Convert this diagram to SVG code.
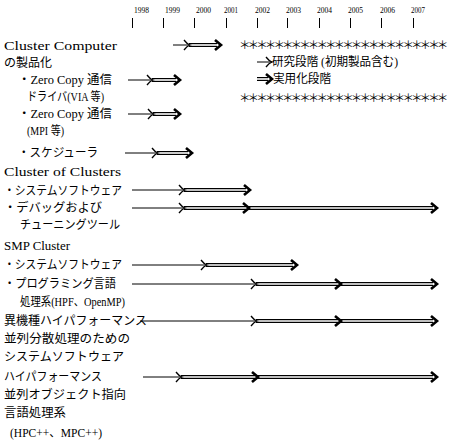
<svg xmlns="http://www.w3.org/2000/svg" xmlns:xlink="http://www.w3.org/1999/xlink" width="450" height="442" viewBox="0 0 450 442">
<style>
text{font-family:"Liberation Serif","Noto Sans CJK JP",serif;font-size:12px;fill:#000}
.yr{font-size:9px}
.st{font-family:"Noto Sans CJK JP",sans-serif;font-size:11.5px;letter-spacing:-2.9px}
.tk{stroke:#000;stroke-width:1}
.thin{stroke:#000;stroke-width:1}
.dbo{stroke:#000;stroke-width:4}
.dbi{stroke:#fff;stroke-width:1.6}
</style>
<defs>
<path id="open" d="M-6,-5 Q-3,-1 0,0 Q-3,1 -6,5" fill="none" stroke="#000" stroke-width="1.3"/>
<path id="bold" d="M-6,-5 L0,0 L-6,5" fill="none" stroke="#000" stroke-width="2.6"/>
</defs>
<rect width="450" height="442" fill="#fff"/>
<g id="timeline">
<text class="yr" x="134" y="13" textLength="15" lengthAdjust="spacingAndGlyphs">1998</text>
<text class="yr" x="165" y="13" textLength="15" lengthAdjust="spacingAndGlyphs">1999</text>
<text class="yr" x="196" y="13" textLength="15" lengthAdjust="spacingAndGlyphs">2000</text>
<text class="yr" x="224" y="13" textLength="14" lengthAdjust="spacingAndGlyphs">2001</text>
<text class="yr" x="255" y="13" textLength="15" lengthAdjust="spacingAndGlyphs">2002</text>
<text class="yr" x="286" y="13" textLength="15" lengthAdjust="spacingAndGlyphs">2003</text>
<text class="yr" x="317" y="13" textLength="15" lengthAdjust="spacingAndGlyphs">2004</text>
<text class="yr" x="348" y="13" textLength="15" lengthAdjust="spacingAndGlyphs">2005</text>
<text class="yr" x="380" y="13" textLength="15" lengthAdjust="spacingAndGlyphs">2006</text>
<text class="yr" x="411" y="13" textLength="14" lengthAdjust="spacingAndGlyphs">2007</text>
<line class="tk" x1="132.5" y1="18" x2="132.5" y2="28"/>
<line class="tk" x1="163.5" y1="18" x2="163.5" y2="28"/>
<line class="tk" x1="194.5" y1="18" x2="194.5" y2="28"/>
<line class="tk" x1="226.5" y1="18" x2="226.5" y2="28"/>
<line class="tk" x1="257.5" y1="18" x2="257.5" y2="28"/>
<line class="tk" x1="287.5" y1="18" x2="287.5" y2="28"/>
<line class="tk" x1="319.5" y1="18" x2="319.5" y2="28"/>
<line class="tk" x1="350.5" y1="18" x2="350.5" y2="28"/>
<line class="tk" x1="381.5" y1="18" x2="381.5" y2="28"/>
<line class="tk" x1="413.5" y1="18" x2="413.5" y2="28"/>
</g>
<g id="legend">
<text class="st" x="239" y="49">＊＊＊＊＊＊＊＊＊＊＊＊＊＊＊＊＊＊＊＊＊＊＊＊</text>
<line class="thin" x1="257" y1="62" x2="272" y2="62"/>
<use xlink:href="#open" x="272" y="62"/>
<text x="272" y="66" textLength="126" lengthAdjust="spacingAndGlyphs">研究段階 (初期製品含む)</text>
<line class="dbo" x1="257" y1="79" x2="268" y2="79"/>
<line class="dbi" x1="257" y1="79" x2="268" y2="79"/>
<use xlink:href="#bold" x="272" y="79"/>
<text x="273" y="83" textLength="58" lengthAdjust="spacingAndGlyphs">実用化段階</text>
<text class="st" x="239" y="102">＊＊＊＊＊＊＊＊＊＊＊＊＊＊＊＊＊＊＊＊＊＊＊＊</text>
</g>
<g id="cluster-computer">
<text x="4" y="50" textLength="113" lengthAdjust="spacingAndGlyphs">Cluster Computer</text>
<text x="4" y="67" textLength="48" lengthAdjust="spacingAndGlyphs">の製品化</text>
</g>
<g id="zero-copy-via">
<text x="18" y="84" textLength="94" lengthAdjust="spacingAndGlyphs">・Zero Copy 通信</text>
<text x="27" y="101" textLength="77" lengthAdjust="spacingAndGlyphs">ドライバ(VIA 等)</text>
</g>
<g id="zero-copy-mpi">
<text x="18" y="118" textLength="94" lengthAdjust="spacingAndGlyphs">・Zero Copy 通信</text>
<text x="27" y="135" textLength="37" lengthAdjust="spacingAndGlyphs">(MPI 等)</text>
</g>
<g id="scheduler">
<text x="18" y="157" textLength="80" lengthAdjust="spacingAndGlyphs">・スケジューラ</text>
</g>
<g id="cluster-of-clusters">
<text x="4" y="176" textLength="117" lengthAdjust="spacingAndGlyphs">Cluster of Clusters</text>
</g>
<g id="coc-system">
<text x="4" y="195" textLength="118" lengthAdjust="spacingAndGlyphs">・システムソフトウェア</text>
</g>
<g id="coc-debug">
<text x="4" y="212" textLength="98" lengthAdjust="spacingAndGlyphs">・デバッグおよび</text>
<text x="20" y="229" textLength="100" lengthAdjust="spacingAndGlyphs">チューニングツール</text>
</g>
<g id="smp-cluster">
<text x="4" y="250" textLength="66" lengthAdjust="spacingAndGlyphs">SMP Cluster</text>
</g>
<g id="smp-system">
<text x="4" y="269" textLength="118" lengthAdjust="spacingAndGlyphs">・システムソフトウェア</text>
</g>
<g id="smp-lang">
<text x="4" y="288" textLength="112" lengthAdjust="spacingAndGlyphs">・プログラミング言語</text>
<text x="20" y="306" textLength="105" lengthAdjust="spacingAndGlyphs">処理系(HPF、OpenMP)</text>
</g>
<g id="hetero">
<text x="4" y="325" textLength="143" lengthAdjust="spacingAndGlyphs">異機種ハイパフォーマンス</text>
<text x="4" y="343" textLength="126" lengthAdjust="spacingAndGlyphs">並列分散処理のための</text>
<text x="4" y="361" textLength="120" lengthAdjust="spacingAndGlyphs">システムソフトウェア</text>
</g>
<g id="hp-object">
<text x="4" y="381" textLength="98" lengthAdjust="spacingAndGlyphs">ハイパフォーマンス</text>
<text x="4" y="399" textLength="122" lengthAdjust="spacingAndGlyphs">並列オブジェクト指向</text>
<text x="4" y="417" textLength="62" lengthAdjust="spacingAndGlyphs">言語処理系</text>
<text x="10" y="437" textLength="92" lengthAdjust="spacingAndGlyphs">(HPC++、MPC++)</text>
</g>
<g id="connectors">
<line class="thin" x1="173" y1="45" x2="190" y2="45"/>
<line class="dbo" x1="189" y1="45" x2="217" y2="45"/><line class="dbi" x1="189" y1="45" x2="217" y2="45"/>
<use xlink:href="#open" x="190" y="45"/><use xlink:href="#bold" x="221" y="45"/>
<line class="thin" x1="128" y1="80" x2="153" y2="80"/>
<line class="dbo" x1="152" y1="80" x2="176" y2="80"/><line class="dbi" x1="152" y1="80" x2="176" y2="80"/>
<use xlink:href="#open" x="153" y="80"/><use xlink:href="#bold" x="180" y="80"/>
<line class="thin" x1="128" y1="114" x2="154" y2="114"/>
<line class="dbo" x1="153" y1="114" x2="176" y2="114"/><line class="dbi" x1="153" y1="114" x2="176" y2="114"/>
<use xlink:href="#open" x="154" y="114"/><use xlink:href="#bold" x="180" y="114"/>
<line class="thin" x1="125" y1="153" x2="158" y2="153"/>
<line class="dbo" x1="157" y1="153" x2="188" y2="153"/><line class="dbi" x1="157" y1="153" x2="188" y2="153"/>
<use xlink:href="#open" x="158" y="153"/><use xlink:href="#bold" x="192" y="153"/>
<line class="thin" x1="132" y1="190" x2="185" y2="190"/>
<line class="dbo" x1="184" y1="190" x2="246" y2="190"/><line class="dbi" x1="184" y1="190" x2="246" y2="190"/>
<use xlink:href="#open" x="185" y="190"/><use xlink:href="#bold" x="250" y="190"/>
<line class="thin" x1="132" y1="208" x2="185" y2="208"/>
<line class="dbo" x1="184" y1="208" x2="433" y2="208"/><line class="dbi" x1="184" y1="208" x2="433" y2="208"/>
<use xlink:href="#open" x="185" y="208"/><use xlink:href="#bold" x="249" y="208"/><use xlink:href="#bold" x="437" y="208"/>
<line class="thin" x1="132" y1="265" x2="207" y2="265"/>
<line class="dbo" x1="206" y1="265" x2="293" y2="265"/><line class="dbi" x1="206" y1="265" x2="293" y2="265"/>
<use xlink:href="#open" x="207" y="265"/><use xlink:href="#bold" x="297" y="265"/>
<line class="thin" x1="132" y1="284" x2="257" y2="284"/>
<line class="dbo" x1="256" y1="284" x2="433" y2="284"/><line class="dbi" x1="256" y1="284" x2="433" y2="284"/>
<use xlink:href="#open" x="257" y="284"/><use xlink:href="#bold" x="341" y="284"/><use xlink:href="#bold" x="437" y="284"/>
<line class="thin" x1="140" y1="321" x2="257" y2="321"/>
<line class="dbo" x1="256" y1="321" x2="433" y2="321"/><line class="dbi" x1="256" y1="321" x2="433" y2="321"/>
<use xlink:href="#open" x="257" y="321"/><use xlink:href="#bold" x="341" y="321"/><use xlink:href="#bold" x="437" y="321"/>
<line class="thin" x1="143" y1="377" x2="182" y2="377"/>
<line class="dbo" x1="181" y1="377" x2="433" y2="377"/><line class="dbi" x1="181" y1="377" x2="433" y2="377"/>
<use xlink:href="#open" x="182" y="377"/><use xlink:href="#bold" x="258" y="377"/><use xlink:href="#bold" x="437" y="377"/>
</g>
</svg>
